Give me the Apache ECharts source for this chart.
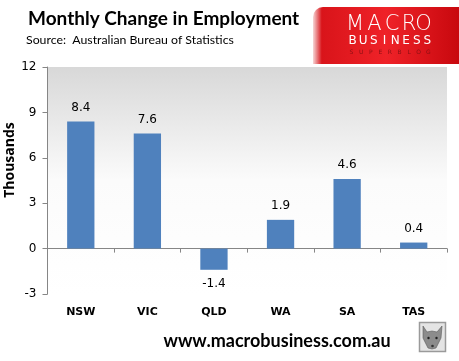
<!DOCTYPE html>
<html>
<head>
<meta charset="utf-8">
<script src="https://cdn.jsdelivr.net/npm/echarts@6/dist/echarts.min.js"></script>
<style>
html,body{margin:0;padding:0;background:#fff;}
#c{width:459px;height:361px;}
</style>
</head>
<body>
<div id="c"></div>
<script>
var categories = ['NSW', 'VIC', 'QLD', 'WA', 'SA', 'TAS'];
var values = [8.4, 7.6, -1.4, 1.9, 4.6, 0.4];
var yMin = -3, yMax = 12, yStep = 3;
var titleText = 'Monthly Change in Employment';
var subtitleText = 'Source:  Australian Bureau of Statistics';
var yAxisName = 'Thousands';
var footerText = 'www.macrobusiness.com.au';

var chart = echarts.init(document.getElementById('c'), null, {renderer: 'canvas'});
var labelFont = 'Tahoma, "DejaVu Sans", sans-serif';

function spacedText(str, x0, step, y, size, color) {
  var out = [];
  for (var i = 0; i < str.length; i++) {
    out.push({type: 'text', x: x0 + i * step, y: y, silent: true,
      style: {text: str[i], fontSize: size, fill: color, fontFamily: '"DejaVu Sans", sans-serif',
        textAlign: 'center', textVerticalAlign: 'middle'}});
  }
  return out;
}

var graphics = [
  {type: 'text', left: 28, top: 9, style: {text: titleText, fontSize: 19, fontWeight: 'bold', fill: '#000', fontFamily: 'Lato, "Open Sans", sans-serif'}},
  {type: 'text', left: 26, top: 34, style: {text: subtitleText, fontSize: 12.3, fill: '#000', fontFamily: 'Lato, "Open Sans", sans-serif'}},
  {type: 'text', x: 10, y: 160, rotation: Math.PI / 2,
    style: {text: yAxisName, fontSize: 14, fontWeight: 'bold', fill: '#000', fontFamily: '"Open Sans", sans-serif', textAlign: 'center', textVerticalAlign: 'middle'}},
  {type: 'rect', shape: {x: 313, y: 7, width: 146, height: 57, r: [10, 0, 0, 0]},
    style: {fill: new echarts.graphic.LinearGradient(0, 0, 1, 0, [
      {offset: 0, color: '#f6d6d6'},
      {offset: 0.06, color: '#d9141a'},
      {offset: 0.5, color: '#ef2228'},
      {offset: 1, color: '#c8080e'}
    ])}},
  {type: 'text', x: 277, y: 341, style: {text: footerText, fontSize: 18, fontWeight: 'bold', fill: '#000', fontFamily: 'Lato, "Open Sans", sans-serif', textAlign: 'center', textVerticalAlign: 'middle'}},
  {type: 'rect', shape: {x: 419.5, y: 322.5, width: 26, height: 29}, style: {fill: '#e4e4e4', stroke: '#9a9a9a', lineWidth: 1.5}},
  {type: 'polygon', shape: {points: [[423, 326], [427, 332], [432, 331], [437, 332], [442, 326], [441, 338], [436, 348], [432, 349], [428, 348], [423, 338]]},
    style: {fill: '#8c8c8c', stroke: '#5a5a5a', lineWidth: 0.6}},
  {type: 'circle', shape: {cx: 428.5, cy: 338, r: 1.2}, style: {fill: '#222'}},
  {type: 'circle', shape: {cx: 436.5, cy: 338, r: 1.2}, style: {fill: '#222'}},
  {type: 'circle', shape: {cx: 432.5, cy: 346, r: 1.3}, style: {fill: '#333'}}
];
// logo lettering
var macroX = [355, 374.5, 392, 409, 423.5];
'MACRO'.split('').forEach(function (ch, i) {
  graphics.push({type: 'text', x: macroX[i], y: 25, silent: true,
    style: {text: ch, fontSize: 21, fill: '#ffffff', fontFamily: '"DejaVu Sans", sans-serif', fontWeight: 200,
      textAlign: 'center', textVerticalAlign: 'middle'}});
});
graphics = graphics.concat(spacedText('BUSINESS', 352.5, 10.7, 41, 12, '#ffffff'));
graphics = graphics.concat(spacedText('SUPERBLOG', 351.5, 9.6, 52.5, 6, '#8a1014'));

var option = {
  backgroundColor: '#ffffff',
  animation: false,
  grid: {
    left: 47.5, right: 12, top: 67, bottom: 67,
    containLabel: false, outerBoundsMode: 'none',
    show: true, borderWidth: 0,
    backgroundColor: new echarts.graphic.LinearGradient(0, 0, 0, 1, [
      {offset: 0, color: '#d8d8d8'},
      {offset: 0.5, color: '#fbfbfb'},
      {offset: 1, color: '#ffffff'}
    ])
  },
  xAxis: [{
    type: 'category', data: categories,
    axisLine: {onZero: true, lineStyle: {color: '#868686', width: 1}},
    axisTick: {show: true, length: 4, inside: false, lineStyle: {color: '#868686'}},
    axisLabel: {show: false}
  }, {
    type: 'category', data: categories, position: 'bottom',
    axisLine: {show: false}, axisTick: {show: false},
    axisLabel: {show: true, margin: 13, color: '#000', fontWeight: 'bold', fontSize: 11, fontFamily: labelFont}
  }],
  yAxis: {
    type: 'value', min: yMin, max: yMax, interval: yStep,
    axisLine: {show: true, lineStyle: {color: '#868686', width: 1}},
    axisTick: {show: true, length: 5, lineStyle: {color: '#868686'}},
    splitLine: {show: false},
    axisLabel: {color: '#000', fontSize: 12, margin: 11, fontFamily: labelFont}
  },
  series: [{
    type: 'bar', xAxisIndex: 0,
    barWidth: '41%',
    data: values.map(function (v) {
      return {value: v, label: {position: v < 0 ? 'bottom' : 'top'}};
    }),
    itemStyle: {color: '#4f81bd'},
    label: {show: true, distance: 8, color: '#000', fontSize: 12, fontFamily: labelFont}
  }],
  graphic: graphics
};
chart.setOption(option);
</script>
</body>
</html>
